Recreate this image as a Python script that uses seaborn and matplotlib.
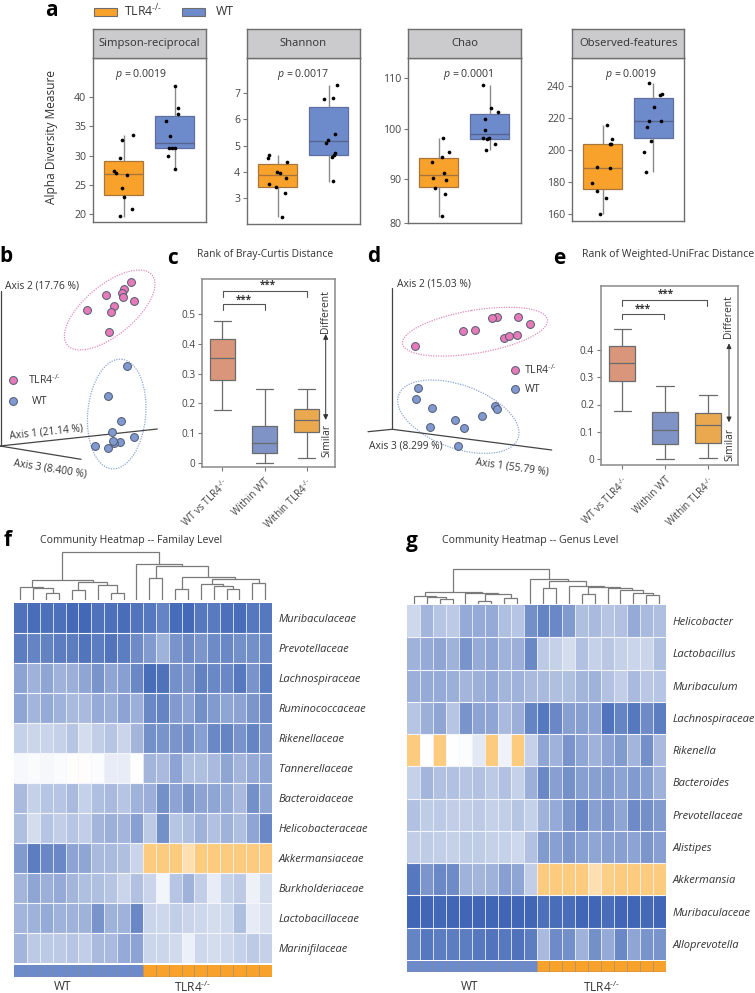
import matplotlib
matplotlib.use("Agg")
import matplotlib.pyplot as plt
from matplotlib.patches import Ellipse, Rectangle
from matplotlib.colors import LinearSegmentedColormap, ListedColormap
import numpy as np
import pandas as pd
import seaborn as sns

sns.set_theme(style="white")
plt.rcParams["font.family"] = ["Open Sans", "DejaVu Sans"]
plt.rcParams["mathtext.fontset"] = "custom"
plt.rcParams["mathtext.rm"] = "Open Sans"
plt.rcParams["mathtext.it"] = "Open Sans:italic"
plt.rcParams["mathtext.bf"] = "Open Sans:bold"

W, H = 755, 993
KO = "TLR4$^{\u2010/\u2010}$"
ORANGE, BLUE = "#F9A22B", "#6D8BCB"
TXT = "#333333"

# ---------- panel a data ----------
alpha_names = ["Simpson-reciprocal", "Shannon", "Chao", "Observed-features"]
alpha_p = ["0.0019", "0.0017", "0.0001", "0.0019"]
# five-number summaries (low whisker, q1, median, q3, high whisker)
simpson_ko_box = [19.6, 23.3, 26.9, 29.0, 33.5]
simpson_wt_box = [27.7, 31.3, 32.2, 36.8, 41.8]
shannon_ko_box = [2.26, 3.42, 3.87, 4.29, 4.64]
shannon_wt_box = [3.62, 4.63, 5.17, 6.46, 7.32]
chao_ko_box = [82.6, 88.5, 90.8, 94.2, 98.1]
chao_wt_box = [95.8, 98.0, 99.0, 103.0, 108.7]
obs_ko_box = [160.0, 175.6, 189.2, 203.8, 215.8]
obs_wt_box = [186.5, 208.0, 218.3, 232.9, 241.9]
# sample points
simpson_ko_y = [33.5, 32.6, 29.5, 27.3, 27.1, 26.6, 24.4, 23.0, 20.9, 19.7]
simpson_ko_x = [.18, -.03, -.08, -.18, -.14, .06, -.03, .01, .16, -.07]
simpson_wt_y = [41.8, 38.0, 37.1, 35.8, 33.3, 31.3, 31.3, 31.3, 29.9, 27.7]
simpson_wt_x = [1.01, 1.06, 1.07, .83, .90, .88, .95, 1.01, .86, 1.01]
shannon_ko_y = [4.66, 4.52, 4.39, 3.99, 3.97, 3.75, 3.52, 3.41, 3.19, 2.27]
shannon_ko_x = [-.18, -.20, .18, -.01, .05, .16, -.17, -.03, .14, .08]
shannon_wt_y = [7.32, 6.80, 6.82, 5.45, 5.22, 5.10, 4.72, 4.63, 4.57, 3.64]
shannon_wt_x = [1.16, .91, 1.09, 1.13, .99, .94, 1.12, 1.10, 1.07, 1.08]
chao_ko_y = [98.2, 95.5, 94.5, 93.4, 91.3, 90.3, 89.8, 88.2, 87.0, 82.7]
chao_ko_x = [.08, .20, .07, -.14, .10, -.11, .14, -.08, .13, .07]
chao_wt_y = [108.7, 104.2, 103.3, 102.0, 99.7, 98.1, 98.0, 98.2, 96.9, 95.8]
chao_wt_x = [.86, 1.02, 1.16, .90, .90, .86, .95, .98, 1.10, .93]
obs_ko_y = [216, 207, 203.8, 203.8, 189.4, 188.8, 179.6, 174.4, 170.4, 160.2]
obs_ko_x = [.08, .18, .15, .16, -.11, .14, -.20, -.10, .07, -.04]
obs_wt_y = [241.9, 235.2, 234.8, 227.1, 218.5, 214.8, 218.1, 205.6, 199, 186.5]
obs_wt_x = [.91, 1.16, 1.13, 1.01, .91, .88, 1.15, .95, .82, .86]
simpson_ticks = [20, 25, 30, 35, 40]
shannon_ticks = [3, 4, 5, 6, 7]
chao_ticks = [81.4, 90, 100, 110]
chao_ticklabels = ["80", "90", "100", "110"]
obs_ticks = [160, 180, 200, 220, 240]

# ---------- panels c / e data ----------
dist_groups = ["WT vs " + KO, "Within WT", "Within " + KO]
bray_a = [0.178, 0.277, 0.352, 0.414, 0.474]
bray_b = [0.002, 0.033, 0.069, 0.125, 0.247]
bray_c = [0.018, 0.106, 0.144, 0.180, 0.250]
unifrac_a = [0.175, 0.288, 0.353, 0.416, 0.477]
unifrac_b = [0.001, 0.056, 0.105, 0.172, 0.268]
unifrac_c = [0.004, 0.060, 0.126, 0.167, 0.236]
dist_colors = ["#D9967A", "#7F93C6", "#EBA94F"]

# ---------- panels b / d ordination data (no scale in source: page position) ----------
b_ko_x = [131, 123.7, 121.7, 123, 106.3, 134.3, 114, 111, 86.7, 108.7]
b_ko_y = [281.7, 289, 293.3, 296.7, 295.3, 301.3, 306.3, 312, 310, 332]
b_wt_x = [126.7, 108, 121, 112, 134, 120.3, 114, 113.3, 95, 107.7]
b_wt_y = [365.7, 396, 421.3, 432.3, 437, 441.7, 442.7, 441, 446.3, 447.7]
d_ko_x = [497.3, 492, 518, 530, 462.7, 474.7, 503.7, 509, 517, 415]
d_ko_y = [316.7, 318, 317, 324, 331, 330.3, 338, 335.7, 335.3, 345.7]
d_wt_x = [418.3, 416, 431.7, 494.7, 497, 482.3, 454.7, 430.3, 463.7, 458]
d_wt_y = [388, 398.7, 407.7, 405.7, 408.7, 416, 419.7, 427, 428.3, 446.3]
key_ko_x = [12.7, 515.3]
key_ko_y = [380.3, 370.3]
key_wt_x = [12.7, 515.3]
key_wt_y = [401.3, 389.3]

# ---------- heatmaps ----------
family_rows = ["Muribaculaceae", "Prevotellaceae", "Lachnospiraceae", "Ruminococcaceae",
               "Rikenellaceae", "Tannerellaceae", "Bacteroidaceae", "Helicobacteraceae",
               "Akkermansiaceae", "Burkholderiaceae", "Lactobacillaceae", "Marinifilaceae"]
family_vals = [
    [.92, .95, .93, .93, .97, .98, .92, .93, .95, .90, .88, .80, .96, .97, .88, .86, .93, .95, .88, .88],
    [.85, .80, .82, .85, .85, .90, .85, .90, .85, .75, .65, .50, .70, .75, .68, .75, .78, .72, .72, .78],
    [.60, .50, .58, .50, .52, .58, .70, .58, .62, .78, .95, .92, .72, .68, .82, .78, .78, .88, .70, .85],
    [.58, .48, .55, .50, .45, .45, .55, .52, .60, .52, .78, .80, .65, .60, .72, .65, .58, .60, .68, .75],
    [.30, .27, .28, .30, .38, .22, .32, .38, .28, .48, .72, .70, .70, .72, .62, .78, .80, .70, .80, .70],
    [.04, .03, .05, .03, -.03, -.03, .02, .12, .12, .0, .48, .45, .60, .42, .42, .45, .58, .48, .55, .58],
    [.45, .30, .38, .38, .45, .30, .42, .45, .38, .50, .52, .72, .60, .68, .60, .58, .55, .45, .72, .58],
    [.42, .22, .38, .32, .38, .32, .48, .52, .48, .62, .35, .72, .38, .42, .50, .40, .50, .42, .58, .78],
    [.65, .85, .78, .78, .60, .58, .45, .45, .42, .28, -.9, -.9, -.9, -.55, -.9, -.9, -.9, -.9, -.9, -.9],
    [.48, .58, .52, .55, .48, .42, .42, .38, .28, .40, .28, .07, .38, .50, .32, .12, .30, .35, .09, .22],
    [.48, .50, .55, .50, .50, .50, .70, .50, .50, .78, .28, .25, .32, .28, .25, .22, .25, .42, .13, .20],
    [.48, .35, .35, .35, .38, .32, .45, .45, .55, .60, .27, .27, .24, .10, .25, .22, .25, .30, .35, .30],
]
genus_rows = ["Helicobacter", "Lactobacillus", "Muribaculum", "Lachnospiraceae", "Rikenella",
              "Bacteroides", "Prevotellaceae", "Alistipes", "Akkermansia", "Muribaculaceae",
              "Alloprevotella"]
genus_vals = [
    [.25, .48, .38, .35, .55, .55, .55, .42, .38, .72, .80, .78, .65, .42, .45, .38, .40, .55, .45, .42],
    [.50, .55, .58, .50, .70, .55, .58, .50, .52, .78, .35, .30, .22, .40, .30, .36, .30, .28, .28, .42],
    [.52, .55, .55, .52, .48, .52, .55, .48, .50, .45, .45, .42, .42, .48, .50, .40, .32, .45, .36, .38],
    [.38, .52, .58, .38, .70, .60, .58, .45, .52, .80, .88, .78, .62, .62, .60, .90, .80, .88, .75, .85],
    [-.9, 0, -.9, 0, .02, .15, -.9, .08, -.9, .30, .58, .50, .70, .58, .50, .60, .65, .48, .72, .45],
    [.30, .48, .40, .40, .38, .40, .35, .40, .30, .52, .78, .62, .72, .62, .62, .65, .60, .65, .62, .50],
    [.40, .33, .35, .32, .32, .35, .30, .32, .38, .30, .50, .55, .68, .78, .62, .68, .58, .75, .72, .65],
    [.32, .33, .32, .30, .33, .33, .30, .30, .25, .40, .65, .62, .68, .62, .58, .62, .62, .60, .68, .62],
    [.88, .68, .78, .75, .50, .48, .50, .62, .58, .32, -.9, -.9, -.9, -.9, -.55, -.85, -.9, -.9, -.9, -.9],
    [1, 1, .98, 1, 1, 1, 1, 1, 1, 1, .93, .95, .95, 1, 1, .95, 1, 1, .97, 1],
    [.80, .88, .85, .85, .85, .88, .90, .88, .92, .85, .45, .75, .72, .50, .72, .55, .78, .58, .70, .70],
]
group_bar = [0] * 10 + [1] * 10
L = None
family_tree = (47.7,
               (20, (13.3, L, (11.7, L, (7.3, L, L))), (17.7, (10, L, L), (15, L, (7.3, L, L)))),
               (36, L, (34.3, (21.7, L, L),
                        (23.3, (10.7, L, L), (21, (15.7, L, (14, L, (11, L, L))), (16.7, L, L))))))
genus_tree = (34.7,
              (12.3, (8.3, L, (7.3, L, (4.7, L, L))), (11.3, L, (9.7, (3.3, L, L), (6.3, L, L)))),
              (25, L, (23.3, (16.3, L, L),
                       (18, L, (17.5, (9.7, L, L), (15.7, L, (14, L, (11.3, L, (9, L, L)))))))))

fig = plt.figure(figsize=(W / 100, H / 100), dpi=100, facecolor="white")


def px_axes(x0, y0, x1, y1, **kw):
    return fig.add_axes([x0 / W, 1 - y1 / H, (x1 - x0) / W, (y1 - y0) / H], **kw)


def ylim_from(v1, p1, v2, p2, top, bottom):
    k = (v2 - v1) / (p2 - p1)
    return v1 + (bottom - p1) * k, v1 + (top - p1) * k


def five_box(ax, groups, stats, colors, width, linecolor, lw, capw=None):
    df = pd.DataFrame({
        "group": np.repeat(groups, 5),
        "value": np.concatenate(stats),
    })
    kw = {"capwidths": capw} if capw else {"showcaps": False}
    sns.boxplot(data=df, x="group", y="value", hue="group", order=groups, hue_order=groups,
                palette=colors, legend=False, whis=(0, 100), width=width, saturation=1,
                linecolor=linecolor, linewidth=lw, fliersize=0, ax=ax, **kw)
    ax.set_xlabel("")
    ax.set_ylabel("")


# overlay in page pixels
ov = fig.add_axes([0, 0, 1, 1], zorder=10)
ov.patch.set_alpha(0)
ov.axis("off")

# ---------- panel a ----------
a_px = [(93, 205.7, 222.3), (247.3, 359.7, 223.7), (408.3, 520.7, 222.7), (572, 684.3, 220.7)]
a_cal = [(40, 96.7, 20, 214.3), (7, 93.3, 3, 198), (110, 78.3, 90, 179.3), (240, 86.3, 160, 214.3)]
a_box = [(simpson_ko_box, simpson_wt_box), (shannon_ko_box, shannon_wt_box),
         (chao_ko_box, chao_wt_box), (obs_ko_box, obs_wt_box)]
a_pts = [(simpson_ko_x, simpson_ko_y, simpson_wt_x, simpson_wt_y),
         (shannon_ko_x, shannon_ko_y, shannon_wt_x, shannon_wt_y),
         (chao_ko_x, chao_ko_y, chao_wt_x, chao_wt_y),
         (obs_ko_x, obs_ko_y, obs_wt_x, obs_wt_y)]
a_ticks = [simpson_ticks, shannon_ticks, chao_ticks, obs_ticks]
a_tl = [None, None, chao_ticklabels, None]
a_pxp = [(140.7, 75), (302.7, 74), (468, 75), (631, 74)]
for i in range(4):
    x0, x1, yb = a_px[i]
    ax = px_axes(x0, 58, x1, yb)
    five_box(ax, ["KO", "WT"], a_box[i], [ORANGE, BLUE], 0.76, "#8A8A8A", 1.0)
    for p, c in zip(ax.patches, ["#A9763A", "#5F6F9F"]):
        p.set_edgecolor(c)
        p.set_linewidth(0.9)
    for ln in ax.lines:
        ln.set_solid_capstyle("butt")
    for ln, c in zip([l for l in ax.lines if len(l.get_xdata()) == 2 and l.get_xdata()[0] != l.get_xdata()[1]],
                     ["#A9763A", "#55648F"]):
        ln.set_color(c)
        ln.set_linewidth(1.0)
    kx, ky, wx, wy = a_pts[i]
    sns.scatterplot(x=list(kx) + list(wx), y=list(ky) + list(wy), color="black", s=7,
                    linewidth=0, ax=ax, legend=False, zorder=5)
    ax.set_xlim(-0.60, 1.608)
    v1, p1, v2, p2 = a_cal[i]
    ax.set_ylim(*ylim_from(v1, p1, v2, p2, 58, yb))
    ax.set_xticks([])
    ax.set_yticks(a_ticks[i])
    if a_tl[i]:
        ax.set_yticklabels(a_tl[i])
    ax.tick_params(axis="y", left=True, length=3, width=0.8, color="#777777",
                   labelsize=7.6, labelcolor="#444444", pad=2)
    for s in ax.spines.values():
        s.set_color("#6E6E6E")
        s.set_linewidth(1.0)
    st = px_axes(x0, 29, x1, 58)
    st.set_facecolor("#CBCBCD")
    st.set_xticks([])
    st.set_yticks([])
    for s in st.spines.values():
        s.set_color("#6E6E6E")
        s.set_linewidth(1.0)
    st.text(0.5, 0.5, alpha_names[i], transform=st.transAxes, ha="center", va="center",
            fontsize=8.1, color=TXT)
    ov.text(a_pxp[i][0], a_pxp[i][1], "$\\mathit{p}$ = " + alpha_p[i], ha="center", va="center",
            fontsize=7.6, color=TXT)

ov.text(51.5, 137, "Alpha Diversity Measure", rotation=90, ha="center", va="center",
        fontsize=8.6, color=TXT)
ov.add_patch(Rectangle((94.3, 8.3), 22.7, 7.7, fc=ORANGE, ec="#6E6E6E", lw=0.8))
ov.add_patch(Rectangle((181.7, 8.3), 23, 7.7, fc=BLUE, ec="#6E6E6E", lw=0.8))
ov.text(124.5, 11.5, KO, ha="left", va="center", fontsize=8.8, color=TXT)
ov.text(215.5, 11.5, "WT", ha="left", va="center", fontsize=8.8, color=TXT)

# panel letters
for s, x, y in [("a", 51, 11), ("b", 6, 257), ("c", 173, 258), ("d", 374, 257), ("e", 559, 258),
                ("f", 8, 541), ("g", 412, 541)]:
    ov.text(x, y, s, fontsize=15, fontweight="bold", color="black", ha="center", va="center")


# ---------- panels c, e ----------
def dist_panel(box, cal, xl, ticks, ticklabels, stats, brackets, stars, capw):
    ax = px_axes(*box)
    five_box(ax, dist_groups, stats, dist_colors, 0.6, "#6B6B6B", 0.9, capw=capw)
    ax.set_xlim(*xl)
    v1, p1, v2, p2 = cal
    ax.set_ylim(*ylim_from(v1, p1, v2, p2, box[1], box[3]))
    ax.set_yticks(ticks)
    ax.set_yticklabels(ticklabels)
    ax.set_xticks([0, 1, 2])
    ax.set_xticklabels(dist_groups, rotation=45, ha="right", rotation_mode="anchor")
    ax.tick_params(axis="both", left=True, bottom=True, length=3, width=0.8, color="#777777",
                   labelsize=7.2, labelcolor="#444444", pad=2)
    ax.tick_params(axis="x", pad=4)
    for s in ax.spines.values():
        s.set_color("#8A8A8A")
        s.set_linewidth(1.1)
    for (xa, xb, ylow, ytop) in brackets:
        ax.plot([xa, xa, xb, xb], [ylow, ytop, ytop, ylow], color="#555555", lw=0.8)
    for (x, y) in stars:
        ax.text(x, y, "***", ha="center", va="center", fontsize=7, color=TXT, fontweight="bold")
    return ax


dist_panel((202.3, 279.3, 335, 466.7), (0, 463.3, 0.5, 313.7), (-0.474, 2.67),
           [0, .1, .2, .3, .4, .5], ["0", "0.1", "0.2", "0.3", "0.4", "0.5"],
           [bray_a, bray_b, bray_c],
           [(0.016, 2.016, .555, .576), (0.016, 1.0, .512, .531)],
           [(1.07, .595), (.51, .544)], 0.41)
dist_panel((601, 285.7, 738.3, 465), (0, 459, 0.4, 350), (-0.496, 2.70),
           [0, .1, .2, .3, .4], ["0", "0.1", "0.2", "0.3", "0.4"],
           [unifrac_a, unifrac_b, unifrac_c],
           [(0, 1.96, .562, .583), (0, .96, .513, .533)],
           [(1.02, .605), (.48, .549)], 0.41)

ov.text(265.5, 255, "Rank of Bray-Curtis Distance", ha="center", va="center", fontsize=7.4, color=TXT)
ov.text(582.5, 255, "Rank of Weighted-UniFrac Distance", ha="left", va="center", fontsize=7.55, color=TXT)
for ax_x, y0, y1, yd, ys in [(325.7, 334, 420, 311.7, 440.7), (729, 343.3, 422.3, 316.7, 444)]:
    ov.annotate("", xy=(ax_x, y0), xytext=(ax_x, y1),
                arrowprops=dict(arrowstyle="<|-|>,head_width=0.12,head_length=0.25", color="#333333",
                                lw=0.7, shrinkA=0, shrinkB=0))
    ov.text(ax_x, yd, "Different", rotation=90, ha="center", va="center", fontsize=7.4, color=TXT)
    ov.text(ax_x + 1, ys, "Similar", rotation=90, ha="center", va="center", fontsize=7.4, color=TXT)

# ---------- panels b, d ----------
PINK, PBLUE = "#E77BB8", "#8099D0"
for xs, ys, c in [(b_ko_x, b_ko_y, PINK), (b_wt_x, b_wt_y, PBLUE),
                  (d_ko_x, d_ko_y, PINK), (d_wt_x, d_wt_y, PBLUE),
                  (key_ko_x, key_ko_y, PINK), (key_wt_x, key_wt_y, PBLUE)]:
    sns.scatterplot(x=xs, y=ys, color=c, s=32, edgecolor="#4F5A70", linewidth=0.7, ax=ov,
                    legend=False, zorder=4)
for (cx, cy, w, h, ang, c) in [(109.7, 310, 110, 50, -39.5, "#E58CBE"),
                               (116.7, 414, 58, 110, 5, "#8FA6D8"),
                               (475, 331.7, 147, 43, -9.5, "#E58CBE"),
                               (458.3, 416.7, 127, 63, 20, "#8FA6D8")]:
    ov.add_patch(Ellipse((cx, cy), w, h, angle=ang, fill=False, ec=c, lw=0.9, ls=(0, (1, 1))))
AX = "#444444"
ov.plot([0.7, 0.7], [291, 446], color=AX, lw=0.9)
ov.plot([0, 157.3], [446, 429], color=AX, lw=0.9)
ov.plot([0, 81], [446, 459.3], color=AX, lw=0.9)
ov.plot([392.3, 392.3], [288.3, 429.3], color=AX, lw=0.9)
ov.plot([368, 392.3], [431.7, 429.3], color=AX, lw=0.9)
ov.plot([392.3, 551.7], [429.3, 450], color=AX, lw=0.9)
ov.text(5, 286.5, "Axis 2 (17.76 %)", ha="left", va="center", fontsize=7.4, color=TXT)
ov.text(46, 432, "Axis 1 (21.14 %)", ha="center", va="center", rotation=6, fontsize=7.4, color=TXT)
ov.text(50.5, 468.5, "Axis 3 (8.400 %)", ha="center", va="center", rotation=-9, fontsize=7.4, color=TXT)
ov.text(27.5, 380.3, KO, ha="left", va="center", fontsize=7.6, color=TXT)
ov.text(32, 401, "WT", ha="left", va="center", fontsize=7.6, color=TXT)
ov.text(396.7, 284.5, "Axis 2 (15.03 %)", ha="left", va="center", fontsize=7.4, color=TXT)
ov.text(405.5, 446.5, "Axis 3 (8.299 %)", ha="center", va="center", fontsize=7.4, color=TXT)
ov.text(512, 467.5, "Axis 1 (55.79 %)", ha="center", va="center", rotation=-8, fontsize=7.4, color=TXT)
ov.text(524, 370.3, KO, ha="left", va="center", fontsize=7.6, color=TXT)
ov.text(525, 389.3, "WT", ha="left", va="center", fontsize=7.6, color=TXT)

# ---------- heatmaps ----------
hm_cmap = LinearSegmentedColormap.from_list(
    "hm", [(0, "#FDC670"), (0.5, "#FFFFFF"), (1, "#4066B5")])
bar_cmap = ListedColormap([BLUE, ORANGE])


def draw_tree(ax, node, counter):
    if node is None:
        counter[0] += 1
        return counter[0] - 0.5, 0
    h, left, right = node
    xl, hl = draw_tree(ax, left, counter)
    xr, hr = draw_tree(ax, right, counter)
    ax.plot([xl, xl, xr, xr], [hl, h, h, hr], color="#7A7A7A", lw=0.9, solid_joinstyle="miter")
    return (xl + xr) / 2, h


def heat_panel(box, bar_y, dendro_bottom, rows, vals, tree, title, title_x, title_y, lab_xs):
    x0, y0, x1, y1 = box
    ax = px_axes(x0, y0, x1, y1)
    sns.heatmap(pd.DataFrame(vals, index=rows), cmap=hm_cmap, vmin=-1, vmax=1, cbar=False,
                linewidths=0, xticklabels=False, yticklabels=rows, ax=ax)
    ax.hlines(range(1, len(rows)), 0, 20, color="#F4F6FB", lw=0.8)
    ax.vlines(range(1, 20), 0, len(rows), color="#F4F6FB", lw=0.55)
    ax.yaxis.tick_right()
    ax.tick_params(axis="y", length=0, pad=5, labelsize=8.0, labelcolor=TXT, labelrotation=0)
    for t in ax.get_yticklabels():
        t.set_fontstyle("italic")
    ax.set_xlabel("")
    ax.set_ylabel("")
    bx = px_axes(x0, bar_y[0], x1, bar_y[1])
    sns.heatmap([group_bar], cmap=bar_cmap, vmin=0, vmax=1, cbar=False, linewidths=0,
                xticklabels=False, yticklabels=False, ax=bx)
    bx.vlines(range(1, 20), 0, 1, color="#8A8A8A", lw=0.4)
    bx.hlines([1], 0, 20, color="#8A8A8A", lw=1.0)
    dx = px_axes(x0, dendro_bottom - 50, x1, dendro_bottom)
    dx.axis("off")
    draw_tree(dx, tree, [0])
    dx.set_xlim(0, 20)
    dx.set_ylim(0, 50)
    ov.text(title_x, title_y, title, ha="left", va="center", fontsize=7.55, color=TXT)
    ov.text(lab_xs[0], 987, "WT", ha="center", va="center", fontsize=8.6, color=TXT)
    ov.text(lab_xs[1], 987, KO, ha="center", va="center", fontsize=8.6, color=TXT)


heat_panel((14, 603.3, 271.7, 963.3), (965, 976.7), 600, family_rows, family_vals, family_tree,
           "Community Heatmap -- Familay Level", 40.5, 540, (63, 193))
heat_panel((407.3, 605, 665.7, 960), (961, 972), 604, genus_rows, genus_vals, genus_tree,
           "Community Heatmap -- Genus Level", 442, 541, (470, 602))

ov.set_xlim(0, W)
ov.set_ylim(H, 0)

fig.savefig("out.png", dpi=100)
